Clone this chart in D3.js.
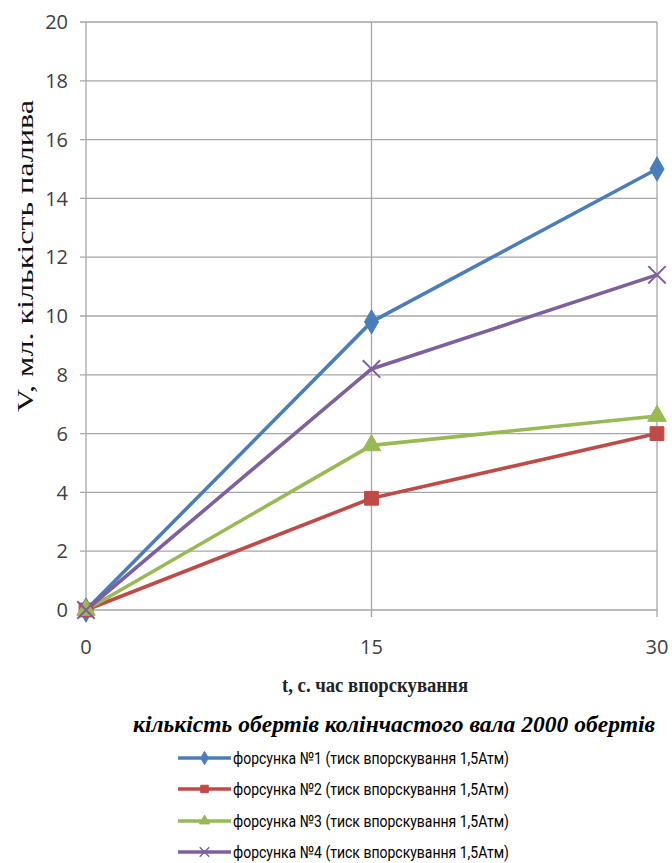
<!DOCTYPE html>
<html>
<head>
<meta charset="utf-8">
<script src="https://cdn.jsdelivr.net/npm/d3@7/dist/d3.min.js"></script>
<style>
  html, body { margin: 0; padding: 0; background: #fff; }
  svg { display: block; }
</style>
</head>
<body>
<svg id="chart" width="672" height="863"></svg>
<script>
// Injection time, s
const times = [0, 15, 30];
const xTicks = [0, 15, 30];
const yTicks = [0, 2, 4, 6, 8, 10, 12, 14, 16, 18, 20];

// Fuel volume, ml, for each injector
const injector1 = [0, 9.8, 15.0];
const injector2 = [0, 3.8, 6.0];
const injector3 = [0, 5.6, 6.6];
const injector4 = [0, 8.2, 11.4];

const seriesNames = [
  "форсунка №1 (тиск впорскування 1,5Атм)",
  "форсунка №2 (тиск впорскування 1,5Атм)",
  "форсунка №3 (тиск впорскування 1,5Атм)",
  "форсунка №4 (тиск впорскування 1,5Атм)"
];
const seriesColors = ["#4a7ebb", "#be4b48", "#98b954", "#7d60a0"];
const seriesMarkers = ["diamond", "square", "triangle", "cross"];

const chartTitle = "кількість обертів колінчастого вала 2000 обертів";
const xTitle = "t, с. час впорскування";
const yTitle = "V, мл. кількість палива";

const series = [injector1, injector2, injector3, injector4].map((vals, i) => ({
  name: seriesNames[i],
  color: seriesColors[i],
  marker: seriesMarkers[i],
  points: vals.map((v, j) => ({ t: times[j], v }))
}));

const svg = d3.select("#chart");
const plotLeft = 86, plotRight = 657, plotTop = 22, plotBottom = 610;

const x = d3.scaleLinear().domain([0, 30]).range([plotLeft, plotRight]);
const y = d3.scaleLinear().domain([0, 20]).range([plotBottom, plotTop]);

const gridColor = "#a6a6a6";
const labelColor = "#404040";

// horizontal gridlines, starting at the tick marks left of the axis
svg.append("g")
  .selectAll("line")
  .data(yTicks)
  .join("line")
  .attr("x1", plotLeft - 6).attr("x2", plotRight)
  .attr("y1", d => y(d)).attr("y2", d => y(d))
  .attr("stroke", gridColor).attr("stroke-width", 1.3);

// vertical gridlines at 15 and 30, with ticks below the axis
svg.append("g")
  .selectAll("line")
  .data(xTicks.filter(d => d > 0))
  .join("line")
  .attr("x1", d => x(d)).attr("x2", d => x(d))
  .attr("y1", plotTop).attr("y2", plotBottom + 7)
  .attr("stroke", gridColor).attr("stroke-width", 1.3);

// vertical axis line
svg.append("line")
  .attr("x1", plotLeft).attr("x2", plotLeft)
  .attr("y1", plotTop).attr("y2", plotBottom + 7)
  .attr("stroke", gridColor).attr("stroke-width", 1.3);

// y tick labels
svg.append("g")
  .selectAll("text")
  .data(yTicks)
  .join("text")
  .attr("x", plotLeft - 18)
  .attr("y", d => y(d))
  .attr("dy", "0.36em")
  .attr("text-anchor", "end")
  .attr("font-family", "'Open Sans', 'Noto Sans', sans-serif")
  .attr("font-size", 20)
  .attr("fill", labelColor)
  .text(d => d);

// x tick labels
svg.append("g")
  .selectAll("text")
  .data(xTicks)
  .join("text")
  .attr("x", d => x(d))
  .attr("y", plotBottom + 44)
  .attr("text-anchor", "middle")
  .attr("font-family", "'Open Sans', 'Noto Sans', sans-serif")
  .attr("font-size", 20)
  .attr("fill", labelColor)
  .text(d => d);

// axis titles
svg.append("text")
  .attr("x", 375).attr("y", 692)
  .attr("text-anchor", "middle")
  .attr("font-family", "'Liberation Serif', 'DejaVu Serif', serif")
  .attr("font-size", 21)
  .attr("font-weight", 600)
  .attr("fill", "#222")
  .attr("textLength", 186).attr("lengthAdjust", "spacingAndGlyphs")
  .text(xTitle);

svg.append("text")
  .attr("transform", `translate(33, ${(100 + 412) / 2}) rotate(-90)`)
  .attr("text-anchor", "middle")
  .attr("font-family", "'Liberation Serif', 'DejaVu Serif', serif")
  .attr("font-size", 24)
  .attr("fill", "#111")
  .attr("textLength", 312).attr("lengthAdjust", "spacingAndGlyphs")
  .text(yTitle);

// marker shapes
const symbolFor = (kind, size) => {
  const types = {
    diamond: d3.symbolDiamond,
    square: d3.symbolSquare,
    triangle: d3.symbolTriangle,
    cross: d3.symbolX
  };
  return d3.symbol().type(types[kind]).size(size)();
};
const markerSizes = { diamond: 170, square: 190, triangle: 150, cross: 200 };

const line = d3.line().x(d => x(d.t)).y(d => y(d.v));

const plot = svg.append("g");
series.forEach(s => {
  plot.append("path")
    .datum(s.points)
    .attr("d", line)
    .attr("fill", "none")
    .attr("stroke", s.color)
    .attr("stroke-width", 3.6)
    .attr("stroke-linejoin", "round");
});
series.forEach(s => {
  plot.append("g")
    .selectAll("path")
    .data(s.points)
    .join("path")
    .attr("transform", d => `translate(${x(d.t)},${y(d.v)})`)
    .attr("d", symbolFor(s.marker, markerSizes[s.marker]))
    .attr("fill", s.marker === "cross" ? "none" : s.color)
    .attr("stroke", s.color)
    .attr("stroke-width", s.marker === "cross" ? 2 : 1);
});

// legend
svg.append("text")
  .attr("x", 133).attr("y", 732)
  .attr("font-family", "'Liberation Serif', 'DejaVu Serif', serif")
  .attr("font-size", 23)
  .attr("font-weight", "bold")
  .attr("font-style", "italic")
  .attr("fill", "#000")
  .attr("textLength", 522).attr("lengthAdjust", "spacingAndGlyphs")
  .text(chartTitle);

const legendRows = [758, 789, 821, 852];
const legend = svg.append("g")
  .selectAll("g")
  .data(series)
  .join("g")
  .attr("transform", (d, i) => `translate(0, ${legendRows[i]})`);

legend.append("line")
  .attr("x1", 178).attr("x2", 231)
  .attr("y1", 0).attr("y2", 0)
  .attr("stroke", d => d.color)
  .attr("stroke-width", 3.6);

legend.append("path")
  .attr("transform", "translate(204.5, 0)")
  .attr("d", d => symbolFor(d.marker, markerSizes[d.marker] * 0.3))
  .attr("fill", d => d.marker === "cross" ? "none" : d.color)
  .attr("stroke", d => d.color)
  .attr("stroke-width", d => d.marker === "cross" ? 1.5 : 1);

legend.append("text")
  .attr("x", 233).attr("y", 0)
  .attr("dy", "0.36em")
  .attr("font-family", "'Liberation Sans Narrow', 'Roboto', sans-serif")
  .attr("font-size", 17)
  .attr("fill", "#000")
  .attr("textLength", 276).attr("lengthAdjust", "spacingAndGlyphs")
  .text(d => d.name);
</script>
</body>
</html>
